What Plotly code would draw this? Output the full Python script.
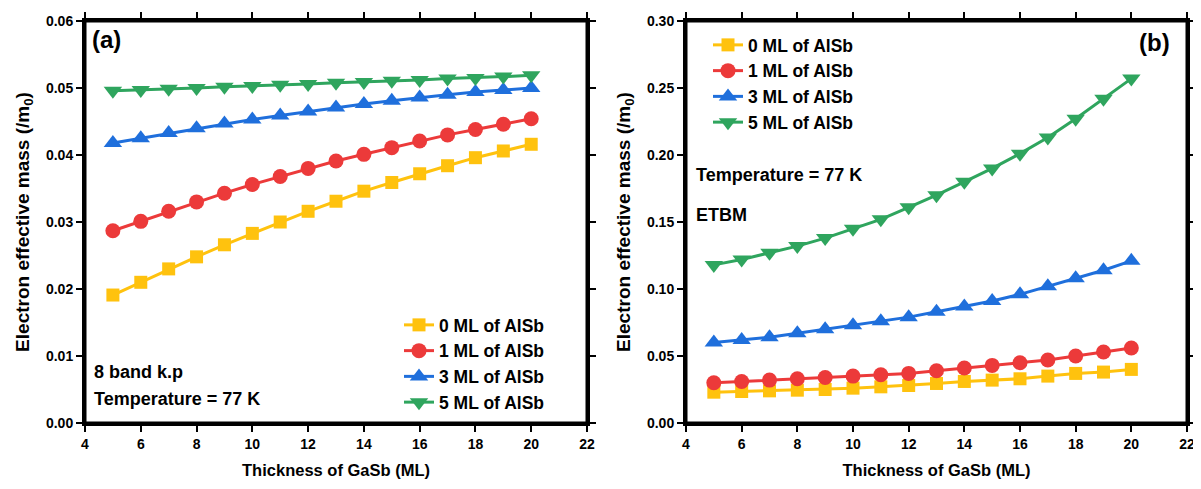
import plotly.graph_objects as go

# ---------------- data ----------------
thickness = [5, 6, 7, 8, 9, 10, 11, 12, 13, 14, 15, 16, 17, 18, 19, 20]
series_names = ["0 ML of AlSb", "1 ML of AlSb", "3 ML of AlSb", "5 ML of AlSb"]

# panel (a): 8 band k.p
kp_0ml = [0.0191, 0.0210, 0.0230, 0.0248, 0.0266, 0.0283, 0.0300, 0.0316,
          0.0331, 0.0346, 0.0359, 0.0372, 0.0384, 0.0396, 0.0406, 0.0416]
kp_1ml = [0.0287, 0.0301, 0.0316, 0.0330, 0.0343, 0.0356, 0.0368, 0.0380,
          0.0391, 0.0401, 0.0411, 0.0421, 0.0430, 0.0438, 0.0446, 0.0454]
kp_3ml = [0.0418, 0.0425, 0.0433, 0.0440, 0.0447, 0.0453, 0.0459, 0.0465,
          0.0471, 0.0476, 0.0481, 0.0486, 0.0490, 0.0494, 0.0497, 0.0500]
kp_5ml = [0.0496, 0.0497, 0.0499, 0.0500, 0.0502, 0.0503, 0.0505, 0.0506,
          0.0508, 0.0509, 0.0511, 0.0512, 0.0514, 0.0515, 0.0517, 0.0519]

# panel (b): ETBM
tb_0ml = [0.023, 0.0235, 0.024, 0.0245, 0.025, 0.026, 0.027, 0.028,
          0.0295, 0.031, 0.032, 0.033, 0.035, 0.037, 0.038, 0.040]
tb_1ml = [0.030, 0.031, 0.032, 0.033, 0.034, 0.035, 0.036, 0.037,
          0.039, 0.041, 0.043, 0.045, 0.047, 0.050, 0.053, 0.056]
tb_3ml = [0.060, 0.062, 0.064, 0.067, 0.070, 0.073, 0.076, 0.079,
          0.083, 0.087, 0.091, 0.096, 0.102, 0.108, 0.114, 0.121]
tb_5ml = [0.118, 0.122, 0.127, 0.132, 0.138, 0.145, 0.152, 0.161,
          0.170, 0.180, 0.190, 0.201, 0.213, 0.227, 0.242, 0.257]

x_ticks = [4, 6, 8, 10, 12, 14, 16, 18, 20, 22]
ya_ticks = [0.00, 0.01, 0.02, 0.03, 0.04, 0.05, 0.06]
yb_ticks = [0.00, 0.05, 0.10, 0.15, 0.20, 0.25, 0.30]

# ---------------- style ----------------
colors = ["#FFC20E", "#EC3A3A", "#1F6FDC", "#2FA55E"]
symbols = ["square", "circle", "triangle-up", "triangle-down"]
msizes = [13, 15, 16, 16]
FONT = "Liberation Sans, Arial, sans-serif"

# page has an 8px body margin: figure coords = page coords - 8
OFF = 8
W, H = 1193, 481
ML, MR, MT, MB = 77, 14, 13, 66
PW, PH = W - ML - MR, H - MT - MB


def px(page_x):
    return (page_x - OFF - ML) / PW


def py(page_y):
    return (H - MB - (page_y - OFF)) / PH


fig = go.Figure()

panel_a = [kp_0ml, kp_1ml, kp_3ml, kp_5ml]
panel_b = [tb_0ml, tb_1ml, tb_3ml, tb_5ml]

for i, ys in enumerate(panel_a):
    fig.add_trace(go.Scatter(
        x=thickness, y=ys, mode="lines+markers", name=series_names[i],
        line=dict(color=colors[i], width=3),
        marker=dict(symbol=symbols[i], size=msizes[i], color=colors[i]),
        xaxis="x", yaxis="y", legend="legend"))

for i, ys in enumerate(panel_b):
    fig.add_trace(go.Scatter(
        x=thickness, y=ys, mode="lines+markers", name=series_names[i],
        line=dict(color=colors[i], width=3),
        marker=dict(symbol=symbols[i], size=msizes[i], color=colors[i]),
        xaxis="x2", yaxis="y2", legend="legend2"))

dom_a = [0, px(587)]
dom_b = [px(686), 1]
dom_y = [0, 1]

tickfont = dict(family=FONT, size=14, color="black", weight="bold")
xtitlefont = dict(family=FONT, size=16.5, color="black", weight="bold")
ytitlefont = dict(family=FONT, size=19, color="black", weight="bold")

x_rng = [x_ticks[0], x_ticks[-1]]
x_step = x_ticks[1] - x_ticks[0]


def xax(domain, anchor):
    return dict(domain=domain, anchor=anchor, range=x_rng,
                tickmode="linear", tick0=x_ticks[0], dtick=x_step,
                ticks="outside", ticklen=6, tickwidth=2, tickcolor="black",
                showline=True, linewidth=3, linecolor="black", mirror="ticks",
                showgrid=False, zeroline=False, tickfont=tickfont, automargin=False,
                title=dict(text="Thickness of GaSb (ML)", font=xtitlefont, standoff=14))


def yax(domain, anchor, vals):
    step = vals[1] - vals[0]
    return dict(domain=domain, anchor=anchor, range=[vals[0], vals[-1]],
                tickmode="linear", tick0=vals[0], dtick=step,
                tickformat=".2f", ticks="outside", ticklen=6, tickwidth=2,
                tickcolor="black",
                showline=True, linewidth=3, linecolor="black", mirror="ticks",
                showgrid=False, zeroline=False, tickfont=tickfont, automargin=False,
                title=dict(text="Electron effective mass (/m<sub>0</sub>)", font=ytitlefont, standoff=12))


legfont = dict(family=FONT, size=17.5, color="black", weight="bold")

fig.update_layout(
    width=W, height=H,
    margin=dict(l=ML, r=MR, t=MT, b=MB, autoexpand=False),
    paper_bgcolor="white", plot_bgcolor="white",
    xaxis=xax(dom_a, "y"),
    yaxis=yax(dom_y, "x", ya_ticks),
    xaxis2=xax(dom_b, "y2"),
    yaxis2=yax(dom_y, "x2", yb_ticks),
    legend=dict(x=px(399), y=py(307), xanchor="left", yanchor="top",
                bgcolor="rgba(0,0,0,0)", font=legfont, tracegroupgap=0),
    legend2=dict(x=px(708), y=py(27), xanchor="left", yanchor="top",
                 bgcolor="rgba(0,0,0,0)", font=legfont, tracegroupgap=0),
    showlegend=True,
)

# plot frames (axes boxes), drawn in axis-domain coordinates
for xr, yr in [("x domain", "y domain"), ("x2 domain", "y2 domain")]:
    fig.add_shape(type="rect", xref=xr, yref=yr, x0=0, x1=1, y0=0, y1=1,
                  line=dict(color="black", width=3), fillcolor="rgba(0,0,0,0)",
                  layer="above")

annfont = dict(family=FONT, size=18, color="black", weight="bold")
labfont = dict(family=FONT, size=24, color="black", weight="bold")
anns = [
    dict(text="(a)", x=px(90), y=py(40), font=labfont),
    dict(text="(b)", x=px(1137), y=py(42), font=labfont),
    dict(text="8 band k.p", x=px(92), y=py(372), font=annfont),
    dict(text="Temperature = 77 K", x=px(92), y=py(399), font=annfont),
    dict(text="Temperature = 77 K", x=px(694), y=py(175), font=annfont),
    dict(text="ETBM", x=px(694), y=py(215), font=annfont),
]
for a in anns:
    fig.add_annotation(xref="paper", yref="paper", xanchor="left", yanchor="middle",
                       showarrow=False, **a)

fig.write_html("out.html")
